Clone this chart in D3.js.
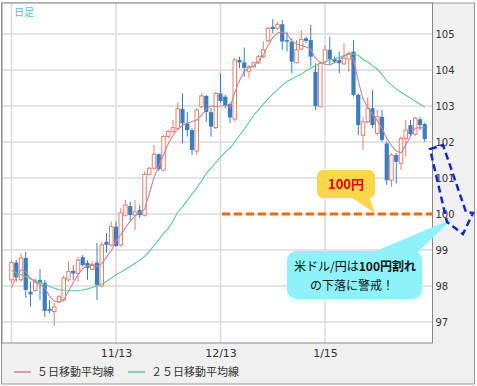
<!DOCTYPE html>
<html>
<head>
<meta charset="utf-8">
<script src="https://cdn.jsdelivr.net/npm/d3@7"></script>
<style>
body { margin:0; background:#fff; }
svg text { font-family: "DejaVu Sans", sans-serif; }
.jp { font-family: "Noto Sans CJK JP", sans-serif; }
</style>
</head>
<body>
<div id="chart"></div>
<script>
var opens = [98.17,98.65,98.17,98.78,97.84,97.87,98.17,98.09,97.36,97.29,
	97.56,97.61,98.17,98.42,98.35,98.80,98.64,98.46,98.65,98.00,
	99.23,99.14,99.65,99.14,99.97,100.22,99.97,100.11,99.97,101.10,
	101.27,101.66,101.22,102.15,102.29,102.38,102.92,102.52,102.33,101.75,
	102.98,103.28,102.83,102.40,103.35,103.26,103.05,102.64,104.28,104.21,
	103.97,104.09,104.20,104.37,104.81,105.20,105.16,105.27,104.83,104.79,
	104.20,104.58,104.88,104.83,103.95,102.98,104.23,104.56,104.30,104.28,
	104.17,104.30,104.51,103.31,102.19,102.56,102.94,102.24,102.70,101.96,
	100.94,101.64,101.41,102.10,102.47,102.22,102.63,102.50];
var highs = [98.72,98.72,98.91,98.95,98.12,98.21,98.47,98.17,97.61,97.53,
	97.75,98.29,98.68,98.58,98.81,98.86,98.72,98.68,99.19,99.23,
	99.47,99.79,99.79,100.16,100.39,100.34,100.39,100.25,101.18,101.31,
	101.92,101.69,102.19,102.33,102.61,103.10,103.35,102.84,102.38,102.94,
	103.35,103.31,102.94,103.40,103.91,103.31,103.10,104.34,104.37,104.62,
	104.14,104.23,104.42,104.79,105.20,105.42,105.34,105.39,105.06,104.88,
	104.83,105.11,104.93,105.25,104.19,104.23,104.69,104.93,104.37,104.51,
	104.74,104.51,104.83,103.35,102.70,103.24,103.44,102.89,102.89,102.01,
	101.69,101.69,102.15,102.61,102.61,102.70,102.69,102.54];
var lows = [98.08,98.12,98.12,97.67,97.43,97.84,97.61,97.14,97.25,96.89,
	97.52,97.56,98.12,98.17,98.12,98.54,98.17,98.44,97.61,97.96,
	98.92,99.09,99.09,99.09,99.93,99.83,99.56,99.89,99.93,101.08,
	101.25,101.19,101.18,102.10,102.25,102.33,101.96,102.15,101.64,101.64,
	102.94,102.56,102.15,102.36,103.08,102.94,102.52,102.56,104.05,103.81,
	103.77,104.06,104.16,104.33,104.77,105.02,105.11,104.56,104.51,103.91,
	104.19,104.56,104.74,104.09,102.89,102.96,104.19,104.14,104.19,103.91,
	104.14,103.95,103.26,102.19,101.78,102.52,102.38,102.18,102.01,100.81,
	100.76,100.85,101.22,101.59,102.17,102.17,102.33,102.01];
var closes = [98.65,98.24,98.78,97.89,97.77,98.12,98.09,97.31,97.31,97.42,
	97.70,98.22,98.40,98.35,98.72,98.58,98.50,98.60,98.03,99.14,
	99.14,99.65,99.11,100.03,100.25,99.97,100.06,99.97,101.10,101.27,
	101.66,101.25,102.15,102.29,102.40,102.92,102.52,102.33,101.78,102.89,
	103.28,102.83,102.43,103.35,103.14,103.01,102.68,104.28,104.21,104.06,
	104.09,104.20,104.37,104.56,105.16,105.14,105.27,104.79,104.79,104.23,
	104.56,104.85,104.81,104.37,103.00,104.19,104.56,104.30,104.23,104.19,
	104.33,104.46,103.31,102.47,102.56,102.94,102.47,102.70,102.06,100.94,
	101.64,101.45,102.10,102.33,102.22,102.66,102.47,102.08];
var ma5 = [97.95,98.25,98.45,98.40,98.22,98.10,98.05,97.95,97.72,97.58,
	97.55,97.62,97.85,98.10,98.32,98.48,98.56,98.58,98.54,98.62,
	98.80,98.98,99.25,99.42,99.62,99.80,99.95,100.05,100.12,100.55,
	101.02,101.33,101.64,101.95,102.18,102.36,102.46,102.52,102.57,102.61,
	102.74,102.92,103.00,102.99,103.00,103.02,102.96,103.38,103.70,103.96,
	104.06,104.12,104.25,104.42,104.68,104.90,105.03,105.06,105.00,104.80,
	104.72,104.68,104.64,104.58,104.32,104.22,104.16,104.14,104.20,104.28,
	104.38,104.47,104.30,103.70,103.20,102.95,102.78,102.60,102.38,102.10,
	101.90,101.75,101.70,101.92,102.15,102.38,102.40,102.40];
var ma25 = [98.43,98.37,98.31,98.26,98.20,98.15,98.10,98.04,97.99,97.94,
	97.90,97.88,97.87,97.87,97.87,97.89,97.92,97.96,98.01,98.05,
	98.13,98.22,98.31,98.38,98.46,98.54,98.63,98.72,98.82,98.96,
	99.12,99.29,99.46,99.60,99.80,100.05,100.20,100.38,100.55,100.72,
	100.92,101.12,101.27,101.43,101.58,101.72,101.83,102.00,102.18,102.35,
	102.55,102.75,102.89,103.05,103.20,103.33,103.45,103.58,103.68,103.75,
	103.82,103.88,103.98,104.05,104.13,104.19,104.23,104.28,104.31,104.35,
	104.40,104.44,104.45,104.40,104.30,104.22,104.12,104.02,103.88,103.70,
	103.58,103.47,103.38,103.30,103.22,103.13,103.05,102.97];
var yTicks = [97,98,99,100,101,102,103,104,105];
var gridIdx = [0,22,44,66];
var xTickIdx = [22,44,66];
var xLabels = ['11/13','12/13','1/15'];
var legendNames = ['５日移動平均線','２５日移動平均線'];

var svgWidth = 477,
	svgHeight = 386;
var plot = {l:2, t:3, r:432.5, b:343};

var upColor = '#e5806a',
	downColor = '#3b7ec0',
	ma5Color = '#cc82a2',
	ma25Color = '#5ccc96';

var svg = d3.select('#chart')
	.append('svg')
	.attr('width', svgWidth)
	.attr('height', svgHeight);

svg.append('rect')
	.attr('x', 1.5).attr('y', 3)
	.attr('width', 473).attr('height', 381)
	.attr('fill', '#f0f0f0')
	.attr('stroke', '#999');

svg.append('rect')
	.attr('x', plot.l).attr('y', plot.t)
	.attr('width', plot.r - plot.l).attr('height', plot.b - plot.t)
	.attr('fill', '#fff');

var xScale = d3.scaleLinear().domain([0, opens.length - 1]).range([11.5, 424.75]),
	yScale = d3.scaleLinear().domain([97, 105]).range([322, 34]);

// grid
svg.append('g').selectAll('line')
	.data(yTicks).enter().append('line')
	.attr('x1', plot.l).attr('x2', plot.r)
	.attr('y1', d => yScale(d)).attr('y2', d => yScale(d))
	.attr('stroke', '#dadada').attr('stroke-width', 1.5);

svg.append('g').selectAll('line')
	.data(gridIdx).enter().append('line')
	.attr('x1', d => xScale(d)).attr('x2', d => xScale(d))
	.attr('y1', plot.t).attr('y2', plot.b)
	.attr('stroke', '#dadada').attr('stroke-width', 1.5);

svg.append('rect')
	.attr('x', plot.l).attr('y', plot.t)
	.attr('width', plot.r - plot.l).attr('height', plot.b - plot.t)
	.attr('fill', 'none')
	.attr('stroke', '#888');

// axes
var yAxis = svg.append('g')
	.attr('transform', `translate(${plot.r},0)`)
	.call(d3.axisRight(yScale).tickValues(yTicks).tickSize(0).tickPadding(3));
yAxis.select('.domain').remove();
yAxis.selectAll('text').attr('font-size', 10).attr('fill', '#333').style('font-family', '"DejaVu Sans", sans-serif');

var xAxis = svg.append('g')
	.attr('transform', `translate(0,${plot.b})`)
	.call(d3.axisBottom(xScale).tickValues(xTickIdx).tickFormat((d, i) => xLabels[i]).tickSize(0).tickPadding(6));
xAxis.select('.domain').remove();
xAxis.selectAll('text').attr('font-size', 11).attr('fill', '#333').style('font-family', '"DejaVu Sans", sans-serif');

// candles
var candles = opens.map((o, i) => ({i:i, o:o, h:highs[i], l:lows[i], c:closes[i]}));

var candleGroup = svg.append('g');
candleGroup.selectAll('line')
	.data(candles).enter().append('line')
	.attr('x1', d => xScale(d.i)).attr('x2', d => xScale(d.i))
	.attr('y1', d => yScale(d.h)).attr('y2', d => yScale(d.l))
	.attr('stroke', d => d.c >= d.o ? upColor : downColor)
	.attr('stroke-width', 1);

candleGroup.selectAll('rect')
	.data(candles).enter().append('rect')
	.attr('x', d => xScale(d.i) - (d.c >= d.o ? 1.75 : 2.1))
	.attr('width', d => d.c >= d.o ? 3.5 : 4.2)
	.attr('y', d => yScale(Math.max(d.o, d.c)))
	.attr('height', d => Math.max(1, Math.abs(yScale(d.o) - yScale(d.c))))
	.attr('fill', d => d.c >= d.o ? '#fff' : downColor)
	.attr('stroke', d => d.c >= d.o ? upColor : 'none')
	.attr('stroke-width', 1);

// moving averages
var maLine = d3.line()
	.x((d, i) => xScale(i))
	.y(d => yScale(d));

svg.append('path').datum(ma25)
	.attr('d', maLine).attr('fill', 'none')
	.attr('stroke', ma25Color).attr('stroke-width', 1.1);

svg.append('path').datum(ma5)
	.attr('d', maLine).attr('fill', 'none')
	.attr('stroke', ma5Color).attr('stroke-width', 1.1);

svg.append('text')
	.attr('class', 'jp')
	.attr('x', 14).attr('y', 16)
	.attr('font-size', 10)
	.attr('fill', '#4cc4ee')
	.text('日足');

// legend
var legend = svg.append('g').attr('transform', 'translate(0,372)');
[[14, ma5Color], [128, ma25Color]].forEach((l, i) => {
	legend.append('line')
		.attr('x1', l[0]).attr('x2', l[0] + 17)
		.attr('stroke', l[1]).attr('stroke-width', 1.5);
	legend.append('text')
		.attr('class', 'jp')
		.attr('x', l[0] + 23).attr('dy', '0.36em')
		.attr('font-size', 11).attr('fill', '#333')
		.text(legendNames[i]);
});

// annotations
var y100 = yScale(100);

svg.append('line')
	.attr('x1', 222).attr('x2', plot.r)
	.attr('y1', y100).attr('y2', y100)
	.attr('stroke', '#ee6b12').attr('stroke-width', 3)
	.attr('stroke-dasharray', '8,4');

svg.append('rect')
	.attr('x', 317).attr('y', 170)
	.attr('width', 58).attr('height', 28)
	.attr('rx', 6)
	.attr('fill', '#f8d74a');
svg.append('path')
	.attr('d', `M351,197 L369,197 L375,${y100 - 1} Z`)
	.attr('fill', '#f8d74a');
svg.append('text')
	.attr('class', 'jp')
	.attr('x', 346).attr('y', 189)
	.attr('text-anchor', 'middle')
	.attr('font-size', 13).attr('font-weight', 'bold')
	.attr('fill', '#e60012')
	.text('100円');

svg.append('rect')
	.attr('x', 287).attr('y', 251)
	.attr('width', 135).attr('height', 48)
	.attr('rx', 9)
	.attr('fill', '#8ef2fb');
svg.append('path')
	.attr('d', `M371,253 L417,253 L452,${y100 + 5} Z`)
	.attr('fill', '#8ef2fb');

var note = svg.append('text')
	.attr('class', 'jp')
	.attr('text-anchor', 'middle')
	.attr('font-size', 12)
	.attr('fill', '#111');
var line1 = note.append('tspan').attr('x', 355).attr('y', 271);
line1.append('tspan').text('米ドル/円は');
line1.append('tspan').attr('font-weight', 'bold').text('100円割れ');
note.append('tspan').attr('x', 352).attr('y', 290).text('の下落に警戒！');

svg.append('path')
	.attr('d', 'M430,149 L443,145 L466,212 L473,213 L463,234 L447,222 Z')
	.attr('fill', 'none')
	.attr('stroke', '#1428c8')
	.attr('stroke-width', 2.5)
	.attr('stroke-dasharray', '7,4');
</script>
</body>
</html>
